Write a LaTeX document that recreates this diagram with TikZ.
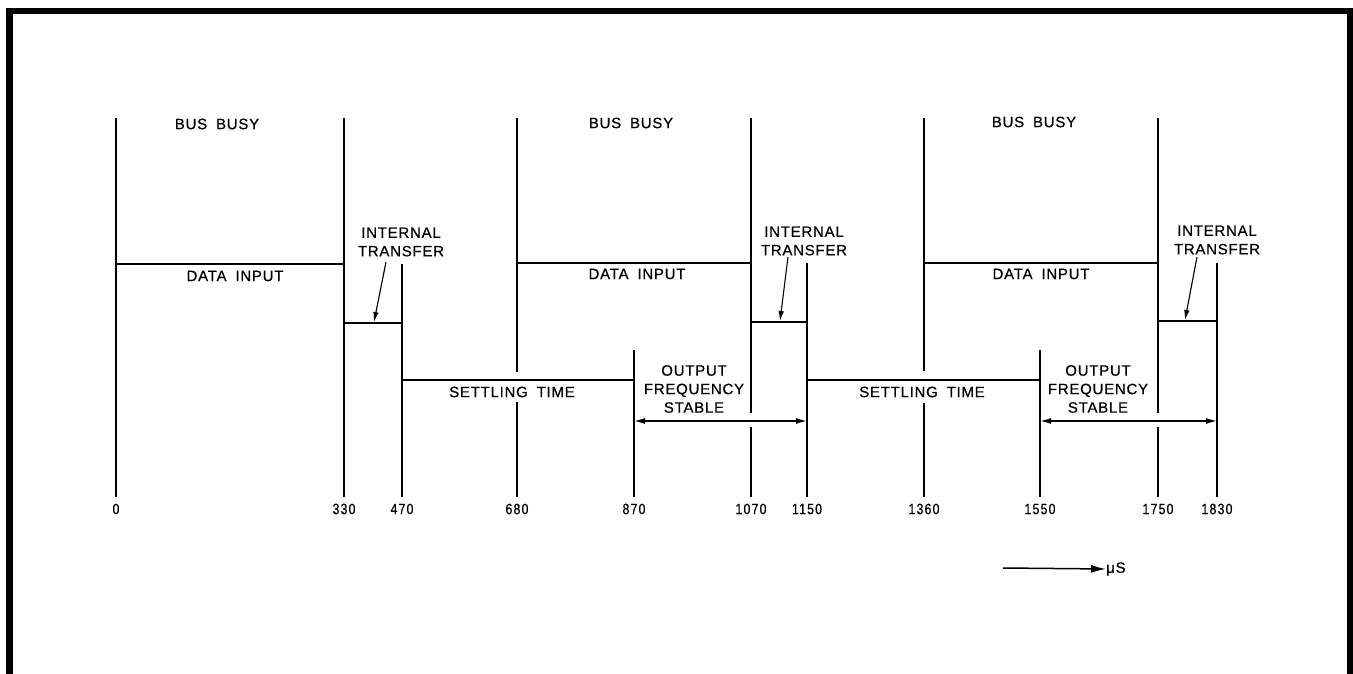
\documentclass[tikz,border=0pt]{standalone}
\usepackage{fontspec}
\setmainfont{Liberation Sans}
\newfontfamily\lblfont[LetterSpace=5,WordSpace=1.8,FakeBold=0.6]{Liberation Sans}
\newfontfamily\numfont[LetterSpace=8,FakeStretch=0.82,FakeBold=0.6]{Liberation Sans}
\usetikzlibrary{arrows.meta}
\tikzset{
  lbl/.style={font=\lblfont\fontsize{15}{18.5}\selectfont, inner sep=0pt, align=center},
  num/.style={font=\numfont\fontsize{15}{17}\selectfont, inner sep=0pt},
  vline/.style={line width=1.3pt},
  level/.style={line width=1.9pt},
  dimarrow/.style={line width=1.4pt, {Latex[length=11pt,width=6pt]}-{Latex[length=11pt,width=6pt]}},
  ptr/.style={line width=1.1pt, -{Latex[length=10pt,width=5.5pt]}},
  unitarrow/.style={line width=1.5pt, -{Latex[length=15pt,width=8pt]}},
  frame/.style={line width=6.5pt, line join=miter}
}
\begin{document}
\begin{tikzpicture}[x=1pt,y=-1pt]
\useasboundingbox (0,0) rectangle (1353,674);
% frame
\coordinate (fbl) at (9.5,674);
\coordinate (ftl) at (9.5,11);
\coordinate (ftr) at (1350,11);
\coordinate (fbr) at (1350,674);
\draw[frame] (fbl) -- (ftl) -- (ftr) -- (fbr);
% time markers (with gaps where text or arrows cross)
\foreach \n/\x/\ty/\ga/\gb in {0/116/118/497/497, 330/344/118/497/497, 470/402/264/497/497, 680/517/118/372/402, 870/634/350/497/497, 1070/751/118/413/427, 1150/807/263/497/497, 1360/924/118/371/403, 1550/1040/350/497/497, 1750/1158/118/413/427, 1830/1217/263/497/497} {
  \coordinate (top\n) at (\x,\ty);
  \coordinate (gapa\n) at (\x,\ga);
  \coordinate (gapb\n) at (\x,\gb);
  \coordinate (bot\n) at (\x,497);
  \draw[vline] (top\n) -- (gapa\n);
  \draw[vline] (gapb\n) -- (bot\n);
  \node[num] (lab\n) at (\x,509) {\n};
}
% data input levels
\coordinate (di1a) at (116,264); \coordinate (di1b) at (344,264);
\coordinate (di2a) at (517,263); \coordinate (di2b) at (751,263);
\coordinate (di3a) at (924,263); \coordinate (di3b) at (1158,263);
\draw[level] (di1a) -- (di1b);
\draw[level] (di2a) -- (di2b);
\draw[level] (di3a) -- (di3b);
% internal transfer levels
\coordinate (it1a) at (344,323); \coordinate (it1b) at (402,323);
\coordinate (it2a) at (751,322); \coordinate (it2b) at (807,322);
\coordinate (it3a) at (1158,321); \coordinate (it3b) at (1217,321);
\draw[level] (it1a) -- (it1b);
\draw[level] (it2a) -- (it2b);
\draw[level] (it3a) -- (it3b);
% settling levels
\coordinate (st1a) at (402,380); \coordinate (st1b) at (634,380);
\coordinate (st2a) at (807,380); \coordinate (st2b) at (1040,380);
\draw[level] (st1a) -- (st1b);
\draw[level] (st2a) -- (st2b);
% output frequency stable arrows
\coordinate (of1a) at (634,421); \coordinate (of1b) at (807,421);
\coordinate (of2a) at (1040,421); \coordinate (of2b) at (1217,421);
\draw[dimarrow] (of1a) -- (of1b);
\draw[dimarrow] (of2a) -- (of2b);
% labels
\node[lbl] (bb1) at (217,124) {BUS BUSY};
\node[lbl] (bb2) at (631,123) {BUS BUSY};
\node[lbl] (bb3) at (1034,122) {BUS BUSY};
\node[lbl] (dl1) at (235,276) {DATA INPUT};
\node[lbl] (dl2) at (637,274) {DATA INPUT};
\node[lbl] (dl3) at (1041,274) {DATA INPUT};
\node[lbl] (itl1) at (401,242) {INTERNAL\\TRANSFER};
\node[lbl] (itl2) at (804,241) {INTERNAL\\TRANSFER};
\node[lbl] (itl3) at (1217,240) {INTERNAL\\TRANSFER};
\node[lbl] (stl1) at (512,392) {SETTLING TIME};
\node[lbl] (stl2) at (922,392) {SETTLING TIME};
\node[lbl] (ofl1) at (694,389) {OUTPUT\\FREQUENCY\\STABLE};
\node[lbl] (ofl2) at (1098,389) {OUTPUT\\FREQUENCY\\STABLE};
% pointers
\coordinate (p1s) at (386,262); \coordinate (p1e) at (374,322);
\coordinate (p2s) at (788,257); \coordinate (p2e) at (780,321);
\coordinate (p3s) at (1197,257); \coordinate (p3e) at (1185,320);
\draw[ptr] (p1s) -- (p1e);
\draw[ptr] (p2s) -- (p2e);
\draw[ptr] (p3s) -- (p3e);
% unit
\coordinate (ua) at (1003,568);
\node[lbl, anchor=west] (unit) at (1106,569) {μS};
\draw[unitarrow] (ua) -- (unit.west);
\end{tikzpicture}
\end{document}
